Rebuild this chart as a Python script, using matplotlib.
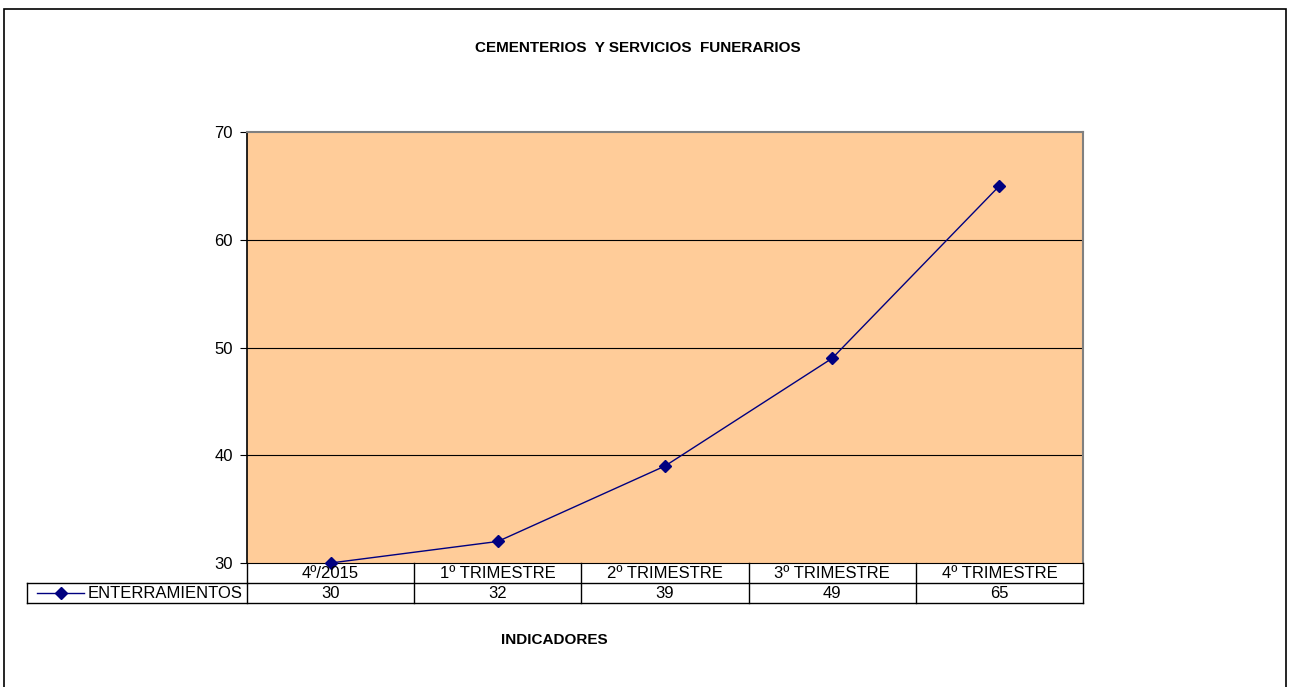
import matplotlib.pyplot as plt
from matplotlib.patches import Rectangle
from matplotlib.lines import Line2D

plt.rcParams["font.family"] = ["Liberation Sans", "DejaVu Sans"]

categorias = ["4º/2015", "1º TRIMESTRE", "2º TRIMESTRE", "3º TRIMESTRE", "4º TRIMESTRE"]
enterramientos = [30, 32, 39, 49, 65]
serie = "ENTERRAMIENTOS"
yticks = [30, 40, 50, 60, 70]

W, H = 1292, 687
fig = plt.figure(figsize=(W / 100, H / 100), dpi=100)

def fx(px):
    return px / W

def fy(py):
    return 1 - py / H

# outer chart frame
fig.patches.append(Rectangle((fx(4), fy(700)), fx(1286) - fx(4), fy(9) - fy(700),
                             transform=fig.transFigure, fill=False, ec="black", lw=1.2))

x0, x1, ytop, ybot = 247, 1083, 132, 563
ax = fig.add_axes([fx(x0), fy(ybot), fx(x1) - fx(x0), fy(ytop) - fy(ybot)])
ax.set_facecolor("#FFCC99")
n = len(categorias)
xs = list(range(n))
ax.set_xlim(-0.5, n - 0.5)
ax.set_ylim(30, 70)
ax.set_yticks(yticks)
ax.set_xticks([])
ax.tick_params(axis="y", direction="out", length=5, width=0.8, labelsize=12, pad=5)
for y in yticks[1:-1]:
    ax.axhline(y, color="black", lw=0.8, zorder=1)
ax.spines["left"].set_color("black")
ax.spines["left"].set_linewidth(1.2)
ax.spines["top"].set_color("#808080")
ax.spines["right"].set_color("#808080")
ax.spines["top"].set_linewidth(1.5)
ax.spines["right"].set_linewidth(1.5)
ax.spines["bottom"].set_color("black")

ax.plot(xs, enterramientos, color="#000080", lw=1, marker="D", ms=6.5,
        mfc="#000080", mec="#000080", zorder=3, clip_on=False)

# data table under the plot
row1, row2 = 583, 603
colw = (x1 - x0) / n
lines = [
    ((x0, x1), (row1, row1)),
    ((27, x1), (row2, row2)),
    ((27, x0), (row1, row1)),
    ((27, 27), (row1, row2)),
    ((x1, x1), (ybot, row2)),
]
for i in range(n):
    xb = x0 + i * colw
    lines.append(((xb, xb), (ybot, row2)))
for (ax_, ay_) in lines:
    fig.add_artist(Line2D([fx(ax_[0]), fx(ax_[1])], [fy(ay_[0]), fy(ay_[1])],
                          transform=fig.transFigure, color="black", lw=1))

for i, (cat, val) in enumerate(zip(categorias, enterramientos)):
    cx = x0 + (i + 0.5) * colw
    fig.text(fx(cx), fy((ybot + row1) / 2 + 0.5), cat, ha="center", va="center", fontsize=12)
    fig.text(fx(cx), fy((row1 + row2) / 2 + 0.5), str(val), ha="center", va="center", fontsize=12)

# legend key in the table
fig.add_artist(Line2D([fx(37), fx(84)], [fy(593), fy(593)], transform=fig.transFigure,
                      color="#000080", lw=1, marker=None))
fig.add_artist(Line2D([fx(60.5)], [fy(593)], transform=fig.transFigure, color="#000080",
                      marker="D", ms=6.5, mfc="#000080", mec="#000080"))
fig.text(fx(88), fy(593.5), serie, ha="left", va="center", fontsize=12)

fig.text(fx(638), fy(48), "CEMENTERIOS  Y SERVICIOS  FUNERARIOS", ha="center", va="center",
         fontsize=11, fontweight="bold")
fig.text(fx(554), fy(640), "INDICADORES", ha="center", va="center", fontsize=11, fontweight="bold")

fig.savefig("out.png", dpi=100)
